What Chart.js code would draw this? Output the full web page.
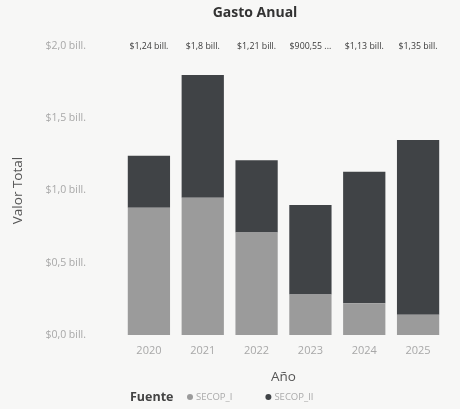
<!DOCTYPE html>
<html>
<head>
<meta charset="utf-8">
<script src="https://cdn.jsdelivr.net/npm/chart.js@4.4.1/dist/chart.umd.min.js"></script>
<style>
    html, body { margin: 0; padding: 0; background: #f7f7f6; }
    #wrap { width: 460px; height: 409px; }
</style>
</head>
<body>
<div id="wrap"><canvas id="chart"></canvas></div>
<script>
const years = ["2020", "2021", "2022", "2023", "2024", "2025"];
const secopI = [0.88, 0.95, 0.71, 0.28, 0.22, 0.14];
const secopII = [0.36, 0.85, 0.50, 0.62, 0.91, 1.21];
const totalLabels = ["$1,24 bill.", "$1,8 bill.", "$1,21 bill.", "$900,55 ...", "$1,13 bill.", "$1,35 bill."];
const yTicks = [0, 0.5, 1.0, 1.5, 2.0];

const font = "'Open Sans', 'DejaVu Sans', sans-serif";

// title + totals drawn in a row at the top of the plot
const totalsPlugin = {
    id: "totals",
    afterDatasetsDraw(c) {
        const ctx = c.ctx;
        const x = c.scales.x;
        ctx.save();
        ctx.textAlign = "center";
        ctx.textBaseline = "middle";
        ctx.font = "bold 14px " + font;
        ctx.fillStyle = "#333";
        ctx.fillText("Gasto Anual", 255, 13);
        ctx.font = "8.8px " + font;
        ctx.fillStyle = "#3a3a3a";
        years.forEach((y, i) => {
            ctx.fillText(totalLabels[i], x.getPixelForValue(i), c.chartArea.top);
        });
        ctx.restore();
    }
};

// "Fuente" legend row at the bottom
const legendPlugin = {
    id: "fuenteLegend",
    afterDraw(c) {
        const ctx = c.ctx;
        const y = 397;
        ctx.save();
        ctx.textBaseline = "middle";
        ctx.font = "bold 12.5px " + font;
        ctx.fillStyle = "#444";
        ctx.fillText("Fuente", 130, y);
        let px = 187;
        ctx.font = "9.5px " + font;
        c.data.datasets.forEach(ds => {
            ctx.fillStyle = ds.backgroundColor;
            ctx.beginPath();
            ctx.arc(px + 3, y, 3, 0, Math.PI * 2);
            ctx.fill();
            ctx.fillStyle = "#aaa";
            ctx.fillText(ds.label, px + 9, y);
            px += ctx.measureText(ds.label).width + 42;
        });
        ctx.restore();
    }
};

new Chart(document.getElementById("chart").getContext("2d"), {
    type: "bar",
    data: {
        labels: years,
        datasets: [
            { label: "SECOP_I", data: secopI, backgroundColor: "#9b9b9b" },
            { label: "SECOP_II", data: secopII, backgroundColor: "#404346" }
        ]
    },
    options: {
        responsive: true,
        maintainAspectRatio: false,
        animation: false,
        layout: { padding: { left: 6, right: 15, top: 46, bottom: 24 } },
        datasets: { bar: { categoryPercentage: 0.785, barPercentage: 1 } },
        plugins: {
            legend: { display: false },
            tooltip: { enabled: false },
            title: { display: false }
        },
        scales: {
            x: {
                stacked: true,
                grid: { display: false },
                border: { display: false },
                ticks: { color: "#a8a8a8", font: { family: font, size: 11 }, padding: 1 },
                title: {
                    display: true, text: "Año", color: "#555",
                    font: { family: font, size: 13.5 }, padding: { top: 6, bottom: 0 }
                },
                afterFit(s) { s.height = 50; }
            },
            y: {
                stacked: true,
                min: 0,
                max: 2.0,
                grid: { display: false },
                border: { display: false },
                afterBuildTicks(s) { s.ticks = yTicks.map(v => ({ value: v })); },
                ticks: {
                    color: "#a8a8a8",
                    font: { family: font, size: 10.5 },
                    padding: 28,
                    callback: v => "$" + v.toFixed(1).replace(".", ",") + " bill."
                },
                title: {
                    display: true, text: "Valor Total", color: "#555",
                    font: { family: font, size: 13.5 }, padding: { bottom: 2 }
                },
                afterFit(s) { s.width = 116; }
            }
        }
    },
    plugins: [totalsPlugin, legendPlugin]
});
</script>
</body>
</html>
